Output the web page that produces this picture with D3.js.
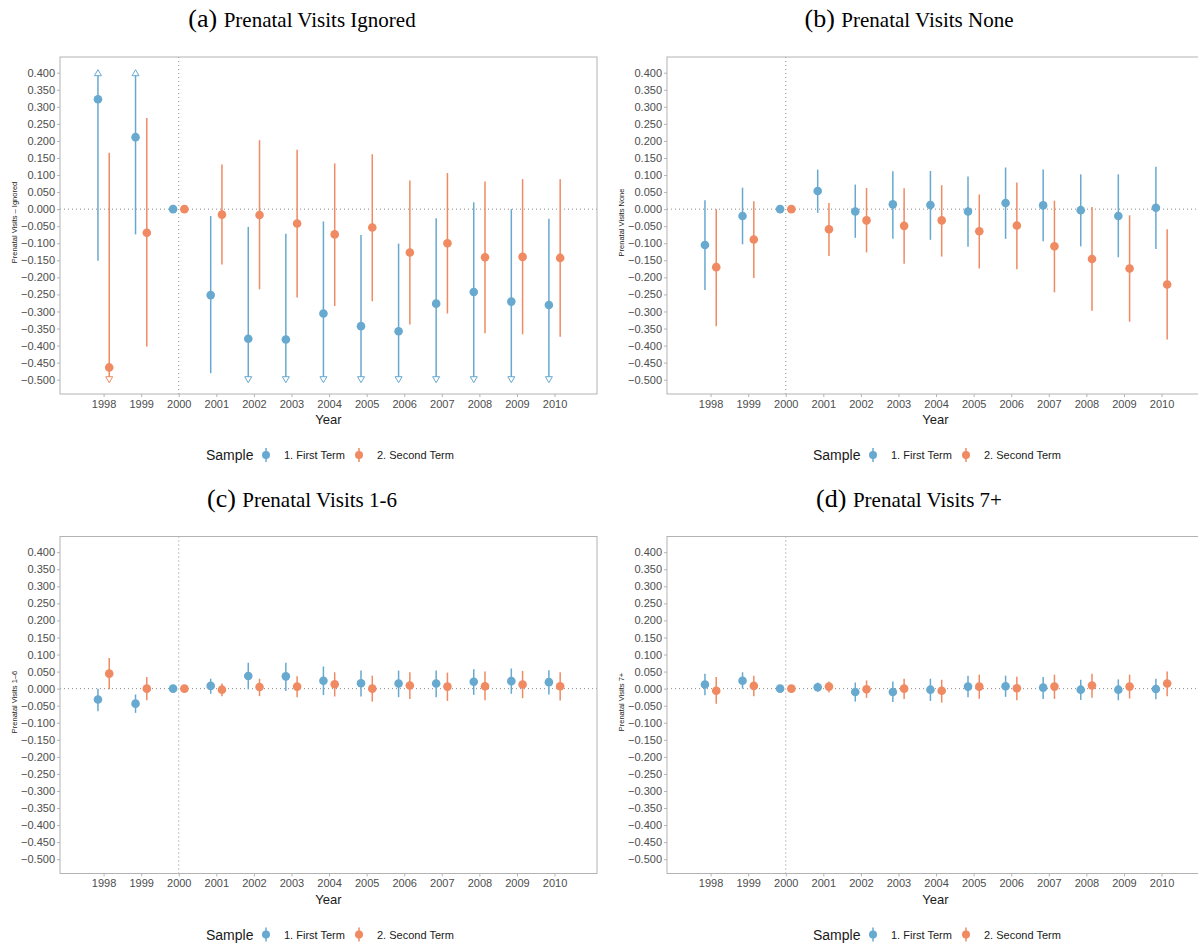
<!DOCTYPE html>
<html>
<head>
<meta charset="utf-8">
<script src="https://cdn.jsdelivr.net/npm/d3@7"></script>
<style>
  body { margin: 0; background: #fff; }
  svg { display: block; }
</style>
</head>
<body>
<div id="vis"></div>
<script>
// years on the x axis
const years = [1998, 1999, 2000, 2001, 2002, 2003, 2004, 2005, 2006, 2007, 2008, 2009, 2010];
const yTicks = [0.4, 0.35, 0.3, 0.25, 0.2, 0.15, 0.1, 0.05, 0, -0.05, -0.1, -0.15, -0.2, -0.25, -0.3, -0.35, -0.4, -0.45, -0.5];
const seriesNames = ["1. First Term", "2. Second Term"];

// (a) Prenatal Visits Ignored
const aFirstEst = [0.322, 0.211, 0, -0.252, -0.380, -0.382, -0.306, -0.343, -0.358, -0.277, -0.243, -0.271, -0.281];
const aFirstLo  = [-0.151, -0.074, 0, -0.481, -0.708, -0.692, -0.576, -0.610, -0.615, -0.527, -0.506, -0.542, -0.534];
const aFirstHi  = [0.795, 0.496, 0, -0.020, -0.052, -0.072, -0.036, -0.076, -0.101, -0.027, 0.020, 0.000, -0.028];
const aSecondEst = [-0.464, -0.069, 0, -0.016, -0.017, -0.042, -0.074, -0.054, -0.127, -0.100, -0.141, -0.140, -0.143];
const aSecondLo  = [-1.093, -0.403, 0, -0.162, -0.235, -0.259, -0.284, -0.270, -0.338, -0.306, -0.364, -0.367, -0.374];
const aSecondHi  = [0.165, 0.267, 0, 0.131, 0.202, 0.174, 0.134, 0.161, 0.084, 0.106, 0.081, 0.088, 0.088];

// (b) Prenatal Visits None
const bFirstEst = [-0.105, -0.020, 0, 0.053, -0.007, 0.014, 0.012, -0.007, 0.018, 0.011, -0.003, -0.020, 0.004];
const bFirstLo  = [-0.237, -0.103, 0, -0.011, -0.084, -0.087, -0.090, -0.110, -0.087, -0.094, -0.109, -0.141, -0.117];
const bFirstHi  = [0.026, 0.063, 0, 0.116, 0.072, 0.111, 0.112, 0.096, 0.122, 0.116, 0.102, 0.102, 0.124];
const bSecondEst = [-0.170, -0.089, 0, -0.059, -0.033, -0.049, -0.033, -0.065, -0.048, -0.109, -0.146, -0.174, -0.221];
const bSecondLo  = [-0.343, -0.202, 0, -0.137, -0.127, -0.160, -0.139, -0.174, -0.176, -0.244, -0.298, -0.330, -0.382];
const bSecondHi  = [0.000, 0.023, 0, 0.018, 0.062, 0.061, 0.070, 0.043, 0.078, 0.025, 0.006, -0.018, -0.059];

// (c) Prenatal Visits 1-6
const cFirstEst = [-0.032, -0.044, 0, 0.008, 0.037, 0.036, 0.023, 0.016, 0.015, 0.015, 0.020, 0.022, 0.019];
const cFirstLo  = [-0.066, -0.071, 0, -0.015, -0.002, -0.007, -0.019, -0.023, -0.025, -0.025, -0.018, -0.015, -0.017];
const cFirstHi  = [0.000, -0.017, 0, 0.029, 0.076, 0.076, 0.065, 0.053, 0.053, 0.053, 0.057, 0.059, 0.054];
const cSecondEst = [0.044, 0.000, 0, -0.003, 0.005, 0.006, 0.013, 0.000, 0.009, 0.006, 0.007, 0.012, 0.007];
const cSecondLo  = [-0.002, -0.034, 0, -0.022, -0.022, -0.025, -0.023, -0.038, -0.030, -0.036, -0.034, -0.028, -0.035];
const cSecondHi  = [0.090, 0.034, 0, 0.015, 0.029, 0.036, 0.048, 0.038, 0.048, 0.047, 0.050, 0.052, 0.048];

// (d) Prenatal Visits 7+
const dFirstEst = [0.012, 0.023, 0, 0.004, -0.010, -0.010, -0.003, 0.006, 0.007, 0.003, -0.003, -0.003, -0.001];
const dFirstLo  = [-0.019, 0.000, 0, -0.009, -0.038, -0.039, -0.036, -0.025, -0.024, -0.030, -0.033, -0.034, -0.031];
const dFirstHi  = [0.044, 0.048, 0, 0.018, 0.018, 0.021, 0.029, 0.038, 0.038, 0.034, 0.026, 0.027, 0.029];
const dSecondEst = [-0.006, 0.008, 0, 0.006, -0.002, 0.000, -0.006, 0.006, 0.001, 0.006, 0.009, 0.006, 0.015];
const dSecondLo  = [-0.044, -0.022, 0, -0.011, -0.027, -0.030, -0.041, -0.030, -0.034, -0.030, -0.027, -0.029, -0.022];
const dSecondHi  = [0.034, 0.038, 0, 0.021, 0.024, 0.029, 0.026, 0.041, 0.035, 0.041, 0.044, 0.041, 0.050];

const colors = ["#67a9cf", "#ef8a62"];

const panels = [
  { tag: "(a)", title: "Prenatal Visits Ignored", ylab: "Prenatal Visits \u2013 Ignored", left: 60, top: 57,
    est: [aFirstEst, aSecondEst], lo: [aFirstLo, aSecondLo], hi: [aFirstHi, aSecondHi] },
  { tag: "(b)", title: "Prenatal Visits None", ylab: "Prenatal Visits None", left: 667, top: 57,
    est: [bFirstEst, bSecondEst], lo: [bFirstLo, bSecondLo], hi: [bFirstHi, bSecondHi] },
  { tag: "(c)", title: "Prenatal Visits 1-6", ylab: "Prenatal Visits 1\u20136", left: 60, top: 536.5,
    est: [cFirstEst, cSecondEst], lo: [cFirstLo, cSecondLo], hi: [cFirstHi, cSecondHi] },
  { tag: "(d)", title: "Prenatal Visits 7+", ylab: "Prenatal Visits 7+", left: 667, top: 536.5,
    est: [dFirstEst, dSecondEst], lo: [dFirstLo, dSecondLo], hi: [dFirstHi, dSecondHi] }
];

const W = 1198, H = 944;
const pw = 537, ph = 337;
const yMin = -0.5, yMax = 0.4;
const dodge = 0.15;

const svg = d3.select("#vis").append("svg")
  .attr("width", W)
  .attr("height", H)
  .style("font-family", "'Liberation Sans', Arial, sans-serif");

const x = d3.scaleLinear().domain([1996.84, 2011.13]).range([0, pw]);
const y = d3.scaleLinear().domain([yMin, yMax]).range([322.7, 15.7]);
const fmt = d3.format(".3f");

panels.forEach(function(p) {
  // title above the panel
  const t = svg.append("text")
    .attr("x", p.left + 242)
    .attr("y", p.top - 30)
    .attr("text-anchor", "middle")
    .style("font-family", "'Liberation Serif', 'Times New Roman', serif")
    .attr("fill", "#000");
  t.append("tspan").attr("font-size", 26).text(p.tag + " ");
  t.append("tspan").attr("font-size", 21).text(p.title);

  const g = svg.append("g")
    .attr("transform", `translate(${p.left},${p.top})`);

  // reference lines
  g.append("line")
    .attr("x1", 0).attr("x2", pw)
    .attr("y1", y(0)).attr("y2", y(0))
    .attr("stroke", "#8c8c8c").attr("stroke-width", 1)
    .attr("stroke-dasharray", "1,3");
  g.append("line")
    .attr("x1", x(2000)).attr("x2", x(2000))
    .attr("y1", 0).attr("y2", ph)
    .attr("stroke", "#8c8c8c").attr("stroke-width", 1)
    .attr("stroke-dasharray", "1,3");

  // axes
  const yAxis = g.append("g")
    .call(d3.axisLeft(y).tickValues(yTicks).tickFormat(fmt).tickSize(3).tickPadding(2));
  yAxis.select(".domain").remove();
  yAxis.selectAll("line").attr("stroke", "#b3b3b3");
  yAxis.selectAll("text").attr("fill", "#4d4d4d").attr("font-size", 11);

  const xAxis = g.append("g")
    .attr("transform", `translate(0,${ph})`)
    .call(d3.axisBottom(x).tickValues(years).tickFormat(d3.format("d")).tickSize(3).tickPadding(3));
  xAxis.select(".domain").remove();
  xAxis.selectAll("line").attr("stroke", "#b3b3b3");
  xAxis.selectAll("text").attr("fill", "#4d4d4d").attr("font-size", 11);

  g.append("rect")
    .attr("x", 0).attr("y", 0)
    .attr("width", pw).attr("height", ph)
    .attr("fill", "none")
    .attr("stroke", "#b3b3b3").attr("stroke-width", 1);

  g.append("text")
    .attr("x", pw / 2)
    .attr("y", ph + 30)
    .attr("text-anchor", "middle")
    .attr("font-size", 13)
    .attr("fill", "#1a1a1a")
    .text("Year");

  g.append("text")
    .attr("transform", `translate(${-43},${ph / 2 - 3}) rotate(-90)`)
    .attr("text-anchor", "middle")
    .attr("font-size", 7.5)
    .attr("fill", "#1a1a1a")
    .text(p.ylab);

  // error bars and points
  [0, 1].forEach(function(s) {
    const off = s === 0 ? -dodge : dodge;
    const rows = years.map((yr, i) => ({
      yr: yr + off, est: p.est[s][i], lo: p.lo[s][i], hi: p.hi[s][i]
    }));
    const col = colors[s];
    g.selectAll(null)
      .data(rows.filter(d => d.hi > d.lo))
      .join("line")
        .attr("x1", d => x(d.yr)).attr("x2", d => x(d.yr))
        .attr("y1", d => y(Math.max(d.lo, yMin)))
        .attr("y2", d => y(Math.min(d.hi, yMax)))
        .attr("stroke", col)
        .attr("stroke-width", 1.5);

    // open arrows where the interval leaves the axis range
    g.selectAll(null)
      .data(rows.filter(d => d.hi > yMax))
      .join("path")
        .attr("d", d => { const cx = x(d.yr), cy = y(yMax);
          return `M${cx - 3.5},${cy + 3} L${cx + 3.5},${cy + 3} L${cx},${cy - 3} Z`; })
        .attr("fill", "#fff").attr("stroke", col).attr("stroke-width", 1);
    g.selectAll(null)
      .data(rows.filter(d => d.lo < yMin))
      .join("path")
        .attr("d", d => { const cx = x(d.yr), cy = y(yMin);
          return `M${cx - 3.5},${cy - 3} L${cx + 3.5},${cy - 3} L${cx},${cy + 3} Z`; })
        .attr("fill", "#fff").attr("stroke", col).attr("stroke-width", 1);

    g.selectAll(null)
      .data(rows)
      .join("circle")
        .attr("cx", d => x(d.yr))
        .attr("cy", d => y(d.est))
        .attr("r", 4.3)
        .attr("fill", col);
  });

  // legend
  const lg = g.append("g").attr("transform", `translate(0,${ph + 61})`);
  lg.append("text")
    .attr("x", 146).attr("y", 5)
    .attr("font-size", 14)
    .attr("fill", "#1a1a1a")
    .text("Sample");
  const keyX = [206, 299];
  seriesNames.forEach(function(name, s) {
    lg.append("line")
      .attr("x1", keyX[s]).attr("x2", keyX[s])
      .attr("y1", -7).attr("y2", 7)
      .attr("stroke", colors[s]).attr("stroke-width", 1.5);
    lg.append("circle")
      .attr("cx", keyX[s]).attr("cy", 0).attr("r", 4)
      .attr("fill", colors[s]);
    lg.append("text")
      .attr("x", keyX[s] + 18).attr("y", 4)
      .attr("font-size", 11)
      .attr("fill", "#1a1a1a")
      .text(name);
  });
});
</script>
</body>
</html>
